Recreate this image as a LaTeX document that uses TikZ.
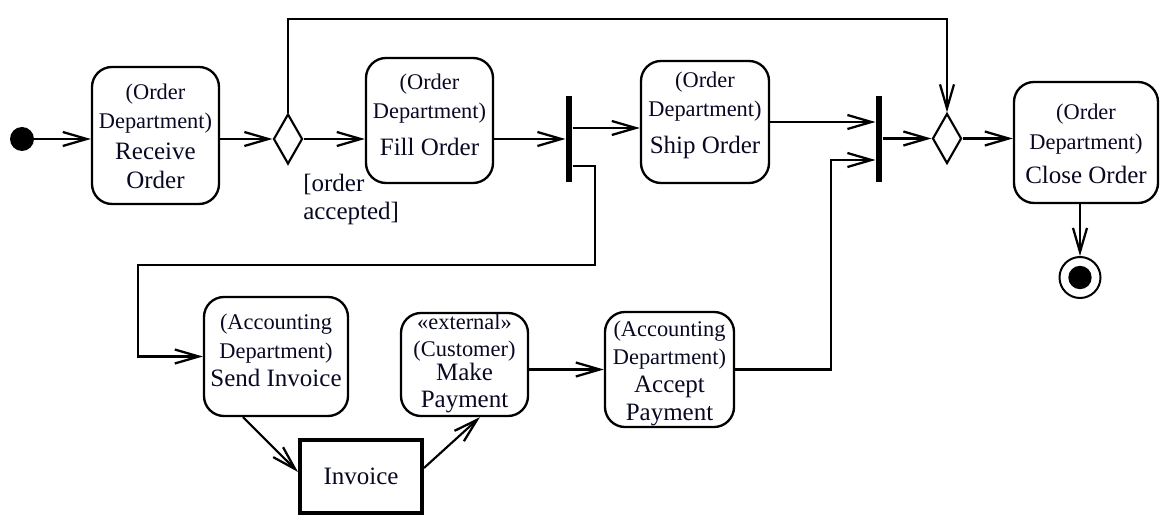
\documentclass[tikz,border=0pt]{standalone}
\usepackage{fontspec}
\setmainfont{Liberation Serif}[Ligatures=TeX]
\newfontfamily\tnrx{Liberation Serif}
\usetikzlibrary{arrows.meta,shapes.geometric}
\newcommand{\fsmx}{\fontsize{16.8pt}{20pt}\selectfont}
\newcommand{\fbigx}{\tnrx\fontsize{18.75pt}{21.5pt}\selectfont}
\definecolor{txt}{RGB}{8,8,35}
\begin{document}
\begin{tikzpicture}[x=0.75pt,y=-0.75pt,
  box/.style={draw=black, line width=1.75pt, rounded corners=15pt, inner sep=0pt},
  lbl/.style={text=txt, align=center, inner sep=0pt, font=\fbigx},
  flow/.style={line width=2.2pt, -{Straight Barb[length=18pt,width=10.5pt,line width=1.7pt]}},
  thinflow/.style={flow, line width=1.6pt},
  bar/.style={fill=black, inner sep=0pt, minimum width=4.9pt, minimum height=64.5pt},
  dec/.style={diamond, draw=black, line width=1.6pt, inner sep=0pt, minimum width=21.75pt, minimum height=37.5pt}]
\useasboundingbox (0,0) rectangle (1168,527);

% nodes
\node[circle, fill=black, minimum size=18pt, inner sep=0pt] (init) at (22,139) {};
\node[box, minimum width=95.25pt, minimum height=102.75pt] (recv) at (155.5,135.5) {};
\node[lbl] (recvt) at (155.5,136.5) {{\fsmx (Order}\\{\fsmx Department)}\\[2pt]Receive\\Order};
\node[dec] (d1) at (288,139) {};
\node[box, minimum width=95.25pt, minimum height=93.75pt] (fill) at (429.5,120.5) {};
\node[lbl] (fillt) at (429.5,115) {{\fsmx (Order}\\{\fsmx Department)}\\[6pt]Fill Order};
\node[lbl, anchor=west, align=left] (guard) at (303,199.5) {[order\\[-1pt]accepted]};
\node[bar] (f1) at (569,139) {};
\node[box, minimum width=96pt, minimum height=91.5pt] (ship) at (705,122) {};
\node[lbl] (shipt) at (705,115.5) {{\fsmx (Order}\\{\fsmx Department)}\\[6.5pt]Ship Order};
\node[bar] (f2) at (879,139) {};
\node[dec] (d2) at (947,138.5) {};
\node[box, minimum width=108pt, minimum height=90.75pt] (close) at (1086,142.5) {};
\node[lbl] (closet) at (1086,144) {{\fsmx (Order}\\[1pt]{\fsmx Department)}\\[4pt]Close Order};
\node[circle, draw=black, line width=1.5pt, minimum size=30.75pt, inner sep=0pt] (final) at (1080,277.5) {};
\node[circle, fill=black, minimum size=17.5pt, inner sep=0pt] (finaldot) at (1080,277.5) {};
\node[box, minimum width=108pt, minimum height=89.25pt] (send) at (276,356.5) {};
\node[lbl] (sendt) at (276,350.5) {{\fsmx (Accounting}\\{\fsmx Department)}\\Send Invoice};
\node[draw=black, line width=3pt, minimum width=91.5pt, minimum height=54.75pt, inner sep=0pt, text=txt, font=\fbigx] (inv) at (361,476.5) {Invoice};
\node[box, minimum width=95.25pt, minimum height=77.25pt] (make) at (464.5,364.5) {};
\node[lbl] (maket) at (464.5,363.5) {{\fsmx «external»}\\[-1pt]{\fsmx (Customer)}\\[-4pt]Make\\[-1pt]Payment};
\node[box, minimum width=96.75pt, minimum height=86.25pt] (acc) at (669.5,369.5) {};
\node[lbl] (acct) at (669.5,373.5) {{\fsmx (Accounting}\\[-0.5pt]{\fsmx Department)}\\[-0.5pt]Accept\\[-0.5pt]Payment};

% helper coordinates
\coordinate (top) at (288,19);
\coordinate (c1) at (595,265);
\coordinate (c2) at (138,265);
\coordinate (c3) at (831,160);
\coordinate (f1a) at ([yshift=8.25pt]f1.east);
\coordinate (f1b) at ([yshift=-20.25pt]f1.east);
\coordinate (s1) at ([xshift=-24.75pt]send.south);
\coordinate (i1) at ([yshift=3.4pt]inv.west);
\coordinate (i2) at ([yshift=6.4pt]inv.east);
\coordinate (m1) at ([xshift=11.6pt]make.south);

% connectors
\draw[flow] (init) -- (init -| recv.west);
\draw[flow] (d1.west -| recv.east) -- (d1.west);
\draw[flow] (d1.east) -- (d1.east -| fill.west);
\draw[flow] (d1.north) |- (top -| d2.north) -- (d2.north);
\draw[thinflow] (f1.west -| fill.east) -- (f1.west);
\draw[flow] (f1a) -- (f1a -| ship.west);
\draw[flow] (f1b) -| (c1) -- (c2) |- (send.west);
\draw[flow] (ship.east) -- (ship.east -| f2.west);
\draw[flow] (acc.east) -| (c3) -- (c3 -| f2.west);
\draw[flow] (f2.east |- d2.west) -- (d2.west);
\draw[flow] (d2.east) -- (d2.east -| close.west);
\draw[flow] (close.south -| final.north) -- (final.north);
\draw[thinflow] (s1) -- (i1);
\draw[thinflow] (i2) -- (m1);
\draw[flow] (acc.west -| make.east) -- (acc.west);
\end{tikzpicture}
\end{document}
